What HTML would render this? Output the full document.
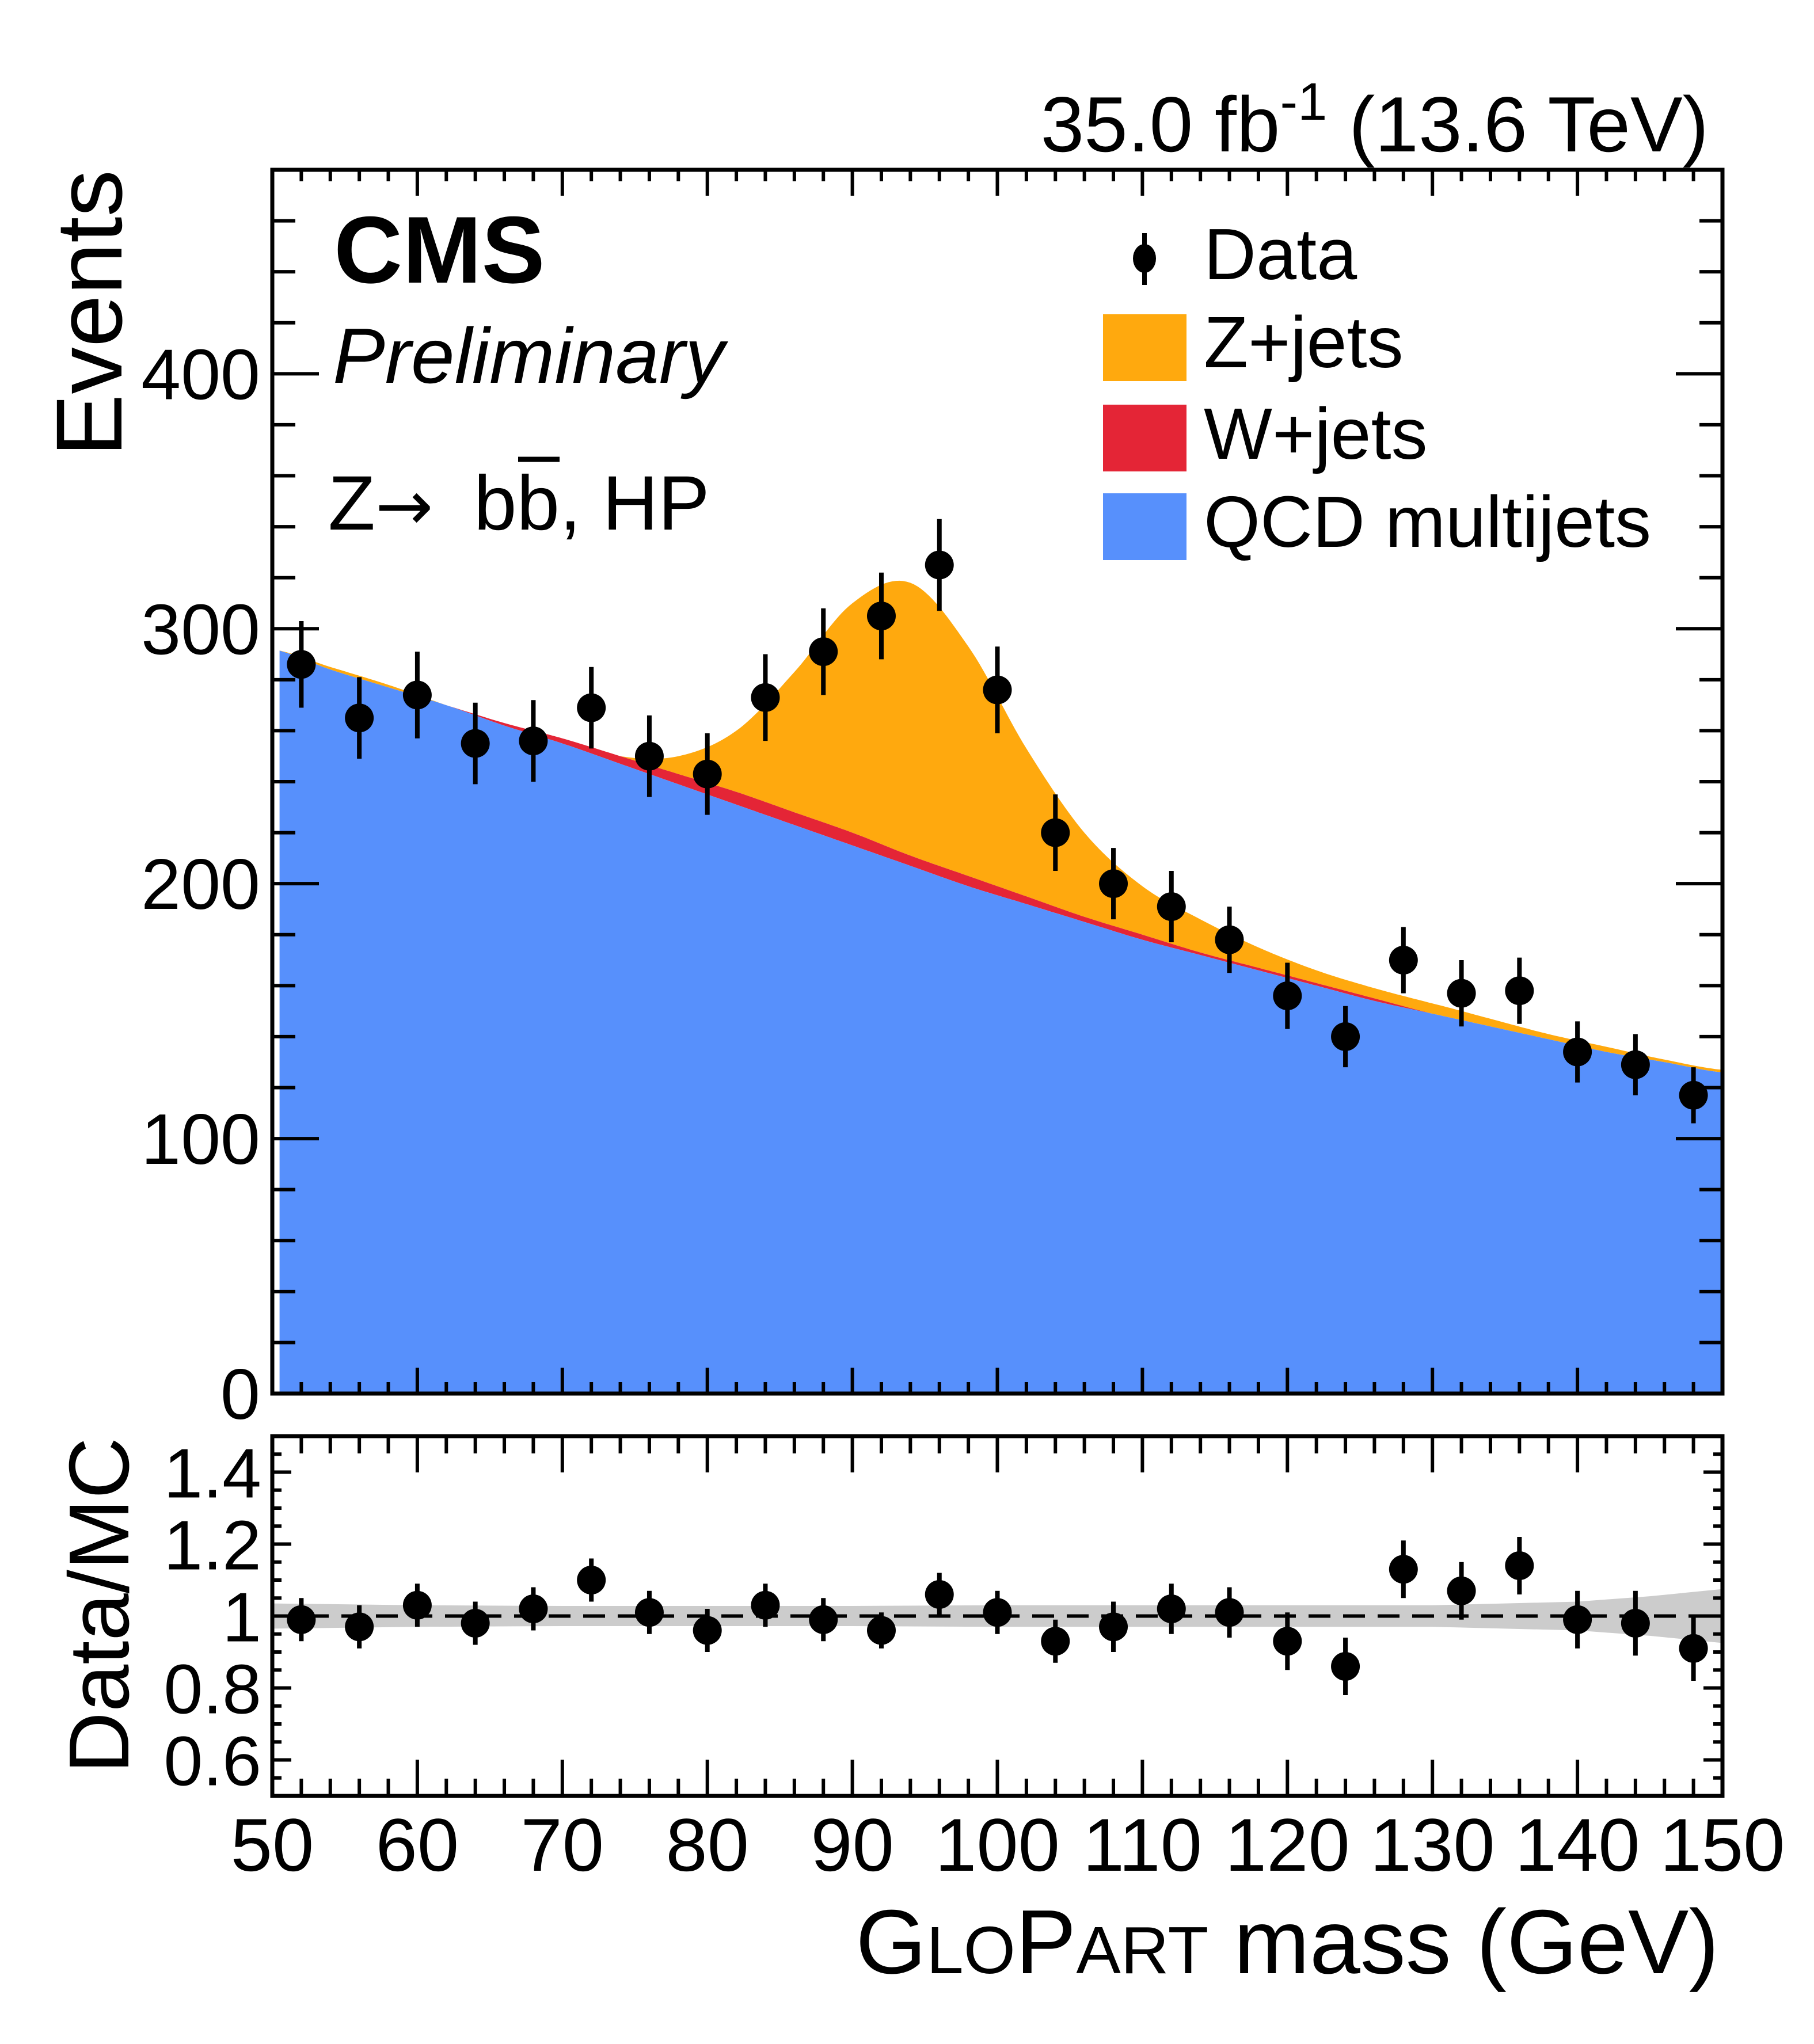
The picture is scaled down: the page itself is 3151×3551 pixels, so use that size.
<!DOCTYPE html>
<html><head><meta charset="utf-8"><style>
html,body{margin:0;padding:0;background:#fff}
svg{display:block}
text{font-family:"Liberation Sans",Arial,sans-serif;fill:#000}
</style></head><body>
<svg id="chart" width="3151" height="3551" viewBox="0 0 3151 3551">
<g id="main-fill"></g>
<g id="ratio-band"></g>
<g id="axes"></g>
<g id="points"></g>
<text x="2968" y="263" font-size="136" text-anchor="end">35.0 fb<tspan dy="-55" font-size="92">-1</tspan><tspan dy="55"> (13.6 TeV)</tspan></text>
<text x="580" y="491" font-size="165" font-weight="bold">CMS</text>
<text x="578" y="665" font-size="136" font-style="italic">Preliminary</text>
<text x="570" y="920" font-size="134">Z<tspan font-family="DejaVu Sans" font-size="120">→</tspan></text>
<text x="823" y="920" font-size="134">bb, HP</text>
<line x1="900" y1="798" x2="972" y2="798" stroke="#000" stroke-width="9"/>
<text transform="translate(211,295) rotate(-90)" font-size="163" text-anchor="end">Events</text>
<text transform="translate(223,2497) rotate(-90)" font-size="148" text-anchor="end">Data/MC</text>
<text x="2986" y="3428" font-size="158" text-anchor="end">G<tspan font-size="116">LO</tspan>P<tspan font-size="116">ART</tspan> mass (GeV)</text>
<g>
<line x1="1988" y1="405" x2="1988" y2="495" stroke="#000" stroke-width="8"/>
<ellipse cx="1988" cy="449" rx="20" ry="25" fill="#000"/>
<text x="2091" y="485" font-size="126">Data</text>
<rect x="1916" y="546" width="145" height="116" fill="#FFA90E"/>
<text x="2091" y="638" font-size="126">Z+jets</text>
<rect x="1916" y="703" width="145" height="116" fill="#E42536"/>
<text x="2091" y="797" font-size="126">W+jets</text>
<rect x="1916" y="857" width="145" height="116" fill="#5790FC"/>
<text x="2091" y="950" font-size="126">QCD multijets</text>
</g>
</svg>
<script>
// ---- data ----
const knotX = [50,54,58,62,66,70,74,78,82,86,90,94,98,102,106,110,114,118,122,126,130,134,138,142,146,150];
const qcd   = [292,284,277,270,262,255,247,239,231,223,215,207,199,192,185,178,172,166,160,154,149,144,139,134,130,126];
const wjets = [0,0,0,0,1,2,3,4,5,5,5,4,4,3,2,2,1,1,1,1,0,0,0,0,0,0];
const zjets = [0,1,1,0,0,0,0,7,24,55,90,107,90,58,33,19,13,8,5,4,4,3,2,2,1,1];
const binX  = [52,56,60,64,68,72,76,80,84,88,92,96,100,104,108,112,116,120,124,128,132,136,140,144,148];
const dataY = [286,265,274,255,256,269,250,243,273,291,305,325,276,220,200,191,178,156,140,170,157,158,134,129,117];
const dataErr=[17,16,17,16,16,16,16,16,17,17,17,18,17,15,14,14,13,13,12,13,13,13,12,12,11];
const ratio = [0.99,0.97,1.03,0.98,1.02,1.10,1.01,0.96,1.03,0.99,0.96,1.06,1.01,0.93,0.97,1.02,1.01,0.93,0.86,1.13,1.07,1.14,0.99,0.98,0.91];
const ratioErr=[0.06,0.06,0.06,0.06,0.06,0.06,0.06,0.06,0.06,0.06,0.05,0.06,0.06,0.06,0.07,0.07,0.07,0.08,0.08,0.08,0.08,0.08,0.08,0.09,0.09];
const bandX  = [50,60,70,80,90,100,110,120,130,140,145,150];
const bandHalf=[0.035,0.03,0.028,0.028,0.028,0.03,0.03,0.03,0.03,0.04,0.055,0.075];
const yTicks = [0,100,200,300,400];
const rTicks = [0.6,0.8,1,1.2,1.4];
const rTickLabels = ["0.6","0.8","1","1.2","1.4"];
const xTicks = [50,60,70,80,90,100,110,120,130,140,150];

// ---- geometry ----
const L=473,R=2992,T=295,B=2421,RT=2495,RB=3120;
const X=v=>L+(v-50)/100*(R-L);
const Y=v=>B-v/480*(B-T);
const RY=v=>RB-(v-0.5)/1.0*(RB-RT);
const NS='http://www.w3.org/2000/svg';
function mk(tag,attrs,parent){const e=document.createElementNS(NS,tag);for(const k in attrs)e.setAttribute(k,attrs[k]);parent.appendChild(e);return e;}

function interp(arr,x){
  const h=4;let i=Math.floor((x-50)/h);if(i<0)i=0;if(i>arr.length-2)i=arr.length-2;
  const t=(x-knotX[i])/h;
  const p0=arr[Math.max(i-1,0)],p1=arr[i],p2=arr[i+1],p3=arr[Math.min(i+2,arr.length-1)];
  return 0.5*((2*p1)+(-p0+p2)*t+(2*p0-5*p1+4*p2-p3)*t*t+(-p0+3*p1-3*p2+p3)*t*t*t);
}
const xs=[];for(let x=50.5;x<=150.0001;x+=0.25)xs.push(Math.min(x,150));
function layerPath(lowerFn,upperFn){
  let d='M'+xs.map(x=>X(x).toFixed(1)+','+Y(upperFn(x)).toFixed(1)).join('L');
  d+='L'+xs.slice().reverse().map(x=>X(x).toFixed(1)+','+Y(lowerFn(x)).toFixed(1)).join('L')+'Z';
  return d;
}
const fq=x=>interp(qcd,x), fw=x=>fq(x)+Math.max(0,interp(wjets,x)), fz=x=>fw(x)+Math.max(0,interp(zjets,x));
const gFill=document.getElementById('main-fill');
let p;
p=mk('path',{d:layerPath(fw,fz),fill:'#FFA90E'},gFill);


p=mk('path',{d:layerPath(fq,fw),fill:'#E42536'},gFill);


p=mk('path',{d:layerPath(x=>0,fq),fill:'#5790FC'},gFill);



// ratio band (smooth polygon)
const gBand=document.getElementById('ratio-band');
let up=bandX.map((x,i)=>X(x)+','+RY(1+bandHalf[i])).join('L');
let dn=bandX.map((x,i)=>X(x)+','+RY(1-bandHalf[i])).reverse().join('L');
p=mk('path',{d:'M'+up+'L'+dn+'Z',fill:'#cccccc'},gBand);


p=mk('line',{x1:L,x2:R,y1:RY(1),y2:RY(1),stroke:'#000','stroke-width':6,'stroke-dasharray':'38,22'},gBand);



// axes
const gA=document.getElementById('axes');
function frame(top,bot,name){
  const r=mk('rect',{x:L,y:top,width:R-L,height:bot-top,fill:'none',stroke:'#000','stroke-width':7},gA);
  
  
}
frame(T,B,'main-frame');frame(RT,RB,'ratio-frame');
function tk(x1,y1,x2,y2){const l=mk('line',{x1,y1,x2,y2,stroke:'#000','stroke-width':6},gA);
  
  }
for(let v=50;v<=150;v+=2){const major=v%10===0;const x=X(v);
  tk(x,B,x,B-(major?45:20));tk(x,T,x,T+(major?45:20));
  tk(x,RB,x,RB-(major?63:30));tk(x,RT,x,RT+(major?63:30));}
for(let v=0;v<=480;v+=20){const major=v%100===0;const y=Y(v);
  tk(L,y,L+(major?81:40),y);tk(R,y,R-(major?81:40),y);}
for(let k=0;k<=20;k++){const v=0.5+k*0.05;const major=(k%4)===2;const y=RY(v);
  tk(L,y,L+(major?33:16),y);tk(R,y,R-(major?33:16),y);}
yTicks.forEach(v=>{const t=mk('text',{x:452,y:Y(v)+44,'font-size':124,'text-anchor':'end'},gA);t.textContent=String(v);
  
  });
rTicks.forEach((v,i)=>{const t=mk('text',{x:454,y:RY(v)+44,'font-size':122,'text-anchor':'end'},gA);t.textContent=rTickLabels[i];
  
  });
xTicks.forEach(v=>{const t=mk('text',{x:X(v),y:3250,'font-size':130,'text-anchor':'middle'},gA);t.textContent=String(v);
  
  });

// points
const gP=document.getElementById('points');
binX.forEach((c,i)=>{const x=X(c);
  let l=mk('line',{x1:x,x2:x,y1:Y(dataY[i]+dataErr[i]),y2:Y(dataY[i]-dataErr[i]),stroke:'#000','stroke-width':8},gP);
  
  
  let e=mk('circle',{cx:x,cy:Y(dataY[i]),r:25,fill:'#000'},gP);
  
  
  l=mk('line',{x1:x,x2:x,y1:RY(ratio[i]+ratioErr[i]),y2:RY(ratio[i]-ratioErr[i]),stroke:'#000','stroke-width':8},gP);
  
  
  e=mk('circle',{cx:x,cy:RY(ratio[i]),r:25,fill:'#000'},gP);
  
  
});
</script>
</body></html>
